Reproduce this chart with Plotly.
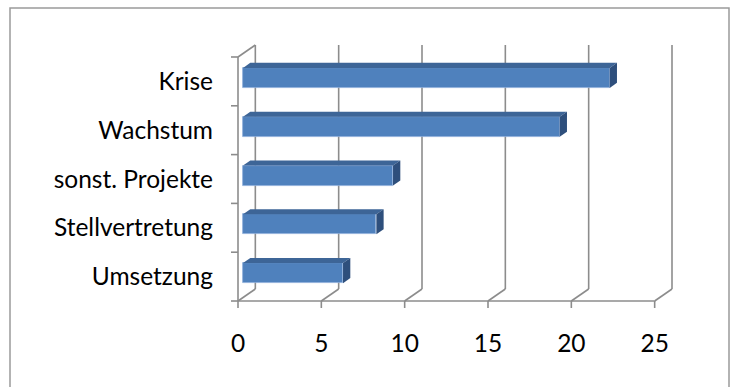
import plotly.graph_objects as go

categories = ["Umsetzung", "Stellvertretung", "sonst. Projekte", "Wachstum", "Krise"]
values = [6, 8, 9, 19, 22]
x_ticks = [0, 5, 10, 15, 20, 25]

# 3D look parameters (data units)
DX, DY = 1.04, 0.246        # depth of the back wall
F1, F2 = 0.29, 0.71          # bar front/back depth fraction
BAR_H = 0.41
TICK_X, TICK_Y = 0.42, 0.143
GRID = "#8c8c8c"
FRONT, TOP, SIDE = "#4f81bd", "#3d6597", "#2e4f7c"

n = len(categories)
y_lo, y_hi = -0.5, n - 0.5

fig = go.Figure()

shapes = []
def seg(x0, y0, x1, y1):
    shapes.append(dict(type="line", xref="x", yref="y", x0=x0, y0=y0, x1=x1, y1=y1,
                       line=dict(color=GRID, width=1.6), layer="below"))

# back wall gridlines + floor diagonals + x ticks
for v in x_ticks:
    seg(v + DX, y_lo + DY, v + DX, y_hi + DY)
    seg(v, y_lo, v + DX, y_lo + DY)
    seg(v, y_lo, v, y_lo - TICK_Y)
# front x axis line
seg(x_ticks[0], y_lo, x_ticks[-1], y_lo)
# left wall front edge, top diagonal, category ticks
seg(0, y_lo, 0, y_hi)
seg(0, y_hi, DX, y_hi + DY)
for k in range(n + 1):
    seg(0, y_lo + k, -TICK_X, y_lo + k)

# chart frame
PLOT_B, PLOT_H = 326, 296
shapes.append(dict(type="rect", xref="paper", yref="paper",
                   x0=(10 - 220) / 480, x1=(729 - 220) / 480,
                   y0=(PLOT_B - 395) / PLOT_H, y1=(PLOT_B - 8) / PLOT_H,
                   line=dict(color="#9a9a9a", width=1.5), layer="below"))

# front faces
yc = [i + F1 * DY for i in range(n)]
fig.add_trace(go.Bar(orientation="h", y=yc, x=values, base=F1 * DX, width=BAR_H,
                     marker=dict(color=FRONT, line=dict(color="#8eaedb", width=0.8)),
                     showlegend=False, hoverinfo="skip"))

ddx, ddy = (F2 - F1) * DX, (F2 - F1) * DY
for i, v in enumerate(values):
    x0, x1 = F1 * DX, v + F1 * DX
    yt, yb = yc[i] + BAR_H / 2, yc[i] - BAR_H / 2
    fig.add_trace(go.Scatter(x=[x0, x1, x1 + ddx, x0 + ddx, x0], y=[yt, yt, yt + ddy, yt + ddy, yt],
                             fill="toself", fillcolor=TOP, mode="lines", line=dict(width=0),
                             showlegend=False, hoverinfo="skip"))
    fig.add_trace(go.Scatter(x=[x1, x1 + ddx, x1 + ddx, x1, x1], y=[yt, yt + ddy, yb + ddy, yb, yt],
                             fill="toself", fillcolor=SIDE, mode="lines", line=dict(width=0),
                             showlegend=False, hoverinfo="skip"))

font = dict(family="Lato, 'Open Sans', sans-serif", size=24.5, color="#000000")

fig.update_layout(
    width=732, height=387,
    margin=dict(l=220, r=32, t=30, b=61),
    paper_bgcolor="white", plot_bgcolor="white",
    shapes=shapes, showlegend=False, bargap=0,
    font=font,
    xaxis=dict(range=[-1.08, 27.72], tickvals=x_ticks, ticktext=[str(t) for t in x_ticks],
               showgrid=False, zeroline=False, showline=False, ticks="",
               tickfont=font, fixedrange=True),
    yaxis=dict(range=[-1.012, 5.053], tickvals=list(range(n)), ticktext=categories,
               showgrid=False, zeroline=False, showline=False, ticks="",
               tickfont=font, ticklabelstandoff=6, fixedrange=True),
)

fig.write_html("out.html")
